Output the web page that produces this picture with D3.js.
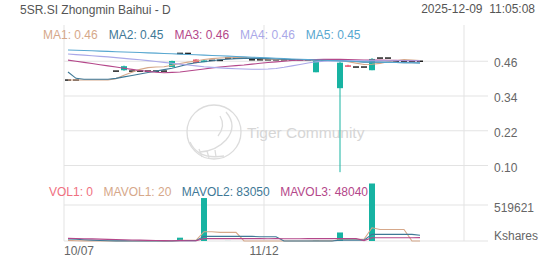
<!DOCTYPE html>
<html>
<head>
<meta charset="utf-8">
<script src="https://cdn.jsdelivr.net/npm/d3@7"></script>
<style>
  body { margin: 0; background: #fff; }
  text { font-family: "Liberation Sans", Arial, sans-serif; }
</style>
</head>
<body>
<div id="chart"></div>
<script>
// data (index 0 = 10/07, index 44 = 12/09); null = no candle drawn
const title = "5SR.SI Zhongmin Baihui - D";
const stamp = "2025-12-09  11:05:08";
const xTicks = [0, 25, 50];
const xTickLabels = ["10/07", "11/12", ""];
const priceTicks = [0.46, 0.34, 0.22, 0.10];
const volTicks = [519621];

const openP  = [0.395,0.395,null,null,null,null,0.426,0.429,0.426,0.426, 0.426,0.426,0.426,0.440,0.487,0.487,0.466,0.457,0.463,0.463, 0.471,0.471,0.471,0.465,0.465,0.465,0.465,0.465,0.465,0.465, 0.465,0.422,0.464,0.464,0.367,0.446,0.440,0.440,0.429,0.471, 0.471,0.460,0.460,0.460,0.460];
const highP  = [0.395,0.395,null,null,null,null,0.426,0.445,0.426,0.426, 0.426,0.426,0.426,0.462,0.487,0.487,0.467,0.464,0.463,0.463, 0.471,0.471,0.471,0.465,0.465,0.465,0.465,0.465,0.465,0.465, 0.465,0.463,0.464,0.464,0.460,0.448,0.440,0.440,0.471,0.471, 0.471,0.460,0.460,0.460,0.460];
const lowP   = [0.395,0.395,null,null,null,null,0.426,0.427,0.426,0.426, 0.426,0.426,0.426,0.440,0.487,0.487,0.453,0.457,0.463,0.463, 0.471,0.471,0.471,0.465,0.465,0.465,0.465,0.465,0.465,0.465, 0.465,0.422,0.464,0.464,0.077,0.441,0.440,0.440,0.429,0.471, 0.471,0.460,0.460,0.460,0.460];
const closeP = [0.395,0.395,null,null,null,null,0.426,0.443,0.426,0.426, 0.426,0.426,0.426,0.461,0.487,0.487,0.454,0.463,0.463,0.463, 0.471,0.471,0.471,0.465,0.465,0.465,0.465,0.465,0.465,0.465, 0.465,0.462,0.464,0.464,0.455,0.444,0.440,0.440,0.468,0.471, 0.471,0.460,0.460,0.460,0.460];
const volume = [0,0,0,0,0,0,200,1000,0,0, 0,0,0,0,48000,0,500,620000,100,0, 800,0,100,100,100,300,300,300,300,300, 300,5000,300,300,122900,300,0,100,830000,0, 0,0,100,0,0];

const ma1 = [0.395,0.395,0.395,0.395,0.395,0.395,0.400,0.412,0.422,0.432, 0.438,0.440,0.441,0.446,0.452,0.457,0.461,0.466,0.469,0.471, 0.472,0.473,0.473,0.471,0.469,0.467,0.466,0.465,0.465,0.465, 0.465,0.4644,0.4642,0.464,0.462,0.458,0.4534,0.4486,0.4494,0.4526, 0.458,0.462,0.466,0.4644,0.4622];
const ma2 = [0.423,0.401,0.398,0.398,0.398,0.398,0.401,0.406,0.411,0.416, 0.421,0.426,0.431,0.436,0.443,0.450,0.455,0.458,0.462,0.465, 0.467,0.469,0.470,0.470,0.470,0.469,0.468,0.467,0.466,0.465, 0.465,0.464,0.464,0.464,0.463,0.461,0.459,0.457,0.457,0.457, 0.456,0.456,0.455,0.455,0.454];
const ma3 = [0.464,0.460,0.456,0.452,0.448,0.444,0.440,0.436,0.432,0.428, 0.425,0.422,0.4205,0.4215,0.423,0.4265,0.430,0.4335,0.437,0.440, 0.4425,0.445,0.447,0.450,0.453,0.4557,0.458,0.460,0.4626,0.464, 0.465,0.466,0.4665,0.467,0.4665,0.466,0.465,0.4645,0.464,0.464, 0.4635,0.463,0.4625,0.462,0.4615];
const ma4 = [0.485,0.483,0.481,0.479,0.477,0.475,0.4725,0.470,0.4675,0.465, 0.462,0.459,0.456,0.453,0.450,0.447,0.444,0.441,0.439,0.437, 0.4355,0.434,0.433,0.4325,0.4325,0.433,0.435,0.439,0.444,0.449, 0.454,0.458,0.460,0.461,0.4612,0.4614,0.4615,0.4615,0.4616,0.4616, 0.4617,0.4617,0.4617,0.4616,0.4615];
const ma5 = [0.499,0.498,0.497,0.496,0.495,0.494,0.493,0.492,0.491,0.490, 0.489,0.488,0.4868,0.4857,0.4846,0.4835,0.4823,0.4811,0.480,0.4788, 0.4776,0.4764,0.4752,0.474,0.4728,0.4716,0.4704,0.4692,0.468,0.4668, 0.4656,0.4645,0.4634,0.4623,0.4612,0.4601,0.459,0.458,0.4572,0.4565, 0.4561,0.4557,0.4554,0.4550,0.4545];

const mavol1 = [9000,4000,1500,800,300,200,240,400,400,400, 360,200,100,100,9700,9700,9700,133600,133600,124000, 124000,124000,300,240,240,240,240,260,300,300, 300,1240,1240,1240,26100,26120,26060,25080,191080,166080, 166020,166020,166040,20,20];
const mavol2 = [30000,25000,19000,13000,8000,4500,2500,1400,900,400, 160,120,120,120,4920,4920,4970,66970,66880,66880, 66960,66960,66910,66910,62110,62140,62120,170,200,200, 230,730,760,780,13070,13090,13060,13040,96030,96030, 96000,95500,95480,95450,83050];
const mavol3 = [38000,36000,33000,30000,27000,24000,21000,18000,15000,12000, 9000,7000,5000,4000,5400,4600,3800,34100,33800,33700, 33700,33650,33620,33600,33600,33560,33570,33540,33550,33560, 33570,33820,33830,33845,36890,36900,36880,5890,47890,47900, 47860,47870,47880,47900,48040];

const W = 552, H = 265;
const up = "#17b3a2", down = "#e8506a", flat = "#222";
const maColors = ["#d6a88a", "#3e7896", "#b4478a", "#aaa8e8", "#58a7d0"];
const gridColor = "#e3e3e3";

const svg = d3.select("#chart").append("svg")
    .attr("width", W).attr("height", H);

// scales
const x = d3.scaleBand().domain(d3.range(53)).range([64, 488]);
const cx = i => x(i) + x.bandwidth() / 2;
const yP = d3.scaleLinear().domain([0.10, 0.46]).range([165.5, 61.25]);
const yV = d3.scaleLinear().domain([0, 519621]).range([241, 205]);

// grid
const grid = svg.append("g");
grid.selectAll(".vg").data(xTicks).enter().append("line")
    .attr("x1", d => x(d)).attr("x2", d => x(d))
    .attr("y1", 25).attr("y2", 241)
    .attr("stroke", gridColor);
grid.selectAll(".hg").data(priceTicks).enter().append("line")
    .attr("x1", 64).attr("x2", 488)
    .attr("y1", d => yP(d)).attr("y2", d => yP(d))
    .attr("stroke", gridColor);
grid.selectAll(".vgv").data([0].concat(volTicks)).enter().append("line")
    .attr("x1", 64).attr("x2", 488)
    .attr("y1", d => yV(d)).attr("y2", d => yV(d))
    .attr("stroke", gridColor);

// watermark
const wm = svg.append("g").attr("fill", "none").attr("stroke", "#dcdcdc").attr("stroke-width", 1.3);
wm.append("circle").attr("cx", 214).attr("cy", 132).attr("r", 27);
wm.append("path").attr("d", "M226 112 Q238 126 226 140 Q216 151 200 152");
wm.append("path").attr("d", "M220 116 Q226 126 218 136");
wm.append("path").attr("d", "M190 142 Q198 160 224 156");
wm.append("path").attr("d", "M199 149 L202 157 M207 151 L209 158 M215 150 L216 157");
svg.append("text").attr("x", 247).attr("y", 138)
    .attr("fill", "#d6d6d6").style("font-size", "15.5px")
    .text("Tiger Community");

// candles
const idx = d3.range(closeP.length);
const has = i => closeP[i] !== null;
const colorOf = i => closeP[i] > openP[i] ? up : closeP[i] < openP[i] ? down : flat;
const cg = svg.append("g");
cg.selectAll(".wick").data(idx.filter(i => has(i) && highP[i] > lowP[i])).enter().append("rect")
    .attr("x", i => cx(i) - 0.5).attr("width", 1)
    .attr("y", i => yP(highP[i]))
    .attr("height", i => yP(lowP[i]) - yP(highP[i]))
    .attr("fill", colorOf);
cg.selectAll(".body").data(idx.filter(has)).enter().append("rect")
    .attr("x", i => x(i) + 1).attr("width", 6)
    .attr("y", i => Math.min(yP(openP[i]), yP(closeP[i])) - (openP[i] === closeP[i] ? 0.75 : 0))
    .attr("height", i => Math.max(Math.abs(yP(openP[i]) - yP(closeP[i])), 1.5))
    .attr("fill", colorOf);

// volume bars
svg.append("g").selectAll("rect").data(idx.filter(i => volume[i] > 0)).enter().append("rect")
    .attr("x", i => x(i) + 1).attr("width", 6)
    .attr("y", i => yV(volume[i]))
    .attr("height", i => yV(0) - yV(volume[i]))
    .attr("fill", i => closeP[i] < openP[i] ? down : up);

// MA lines
const priceLine = d3.line().x((d, i) => cx(i)).y(d => yP(d));
[ma1, ma2, ma3, ma4, ma5].forEach((s, k) => {
    svg.append("path").datum(s)
        .attr("d", priceLine)
        .attr("fill", "none")
        .attr("stroke", maColors[k])
        .attr("stroke-width", 1.1);
});
const volLine = d3.line().x((d, i) => cx(i)).y(d => yV(d));
[mavol1, mavol2, mavol3].forEach((s, k) => {
    svg.append("path").datum(s)
        .attr("d", volLine)
        .attr("fill", "none")
        .attr("stroke", maColors[k])
        .attr("stroke-width", 1.1);
});

// axes labels (right side)
const axisText = svg.append("g").attr("fill", "#666").style("font-size", "12px");
axisText.selectAll(".pt").data(priceTicks).enter().append("text")
    .attr("x", 494).attr("y", d => yP(d) + 6)
    .text(d => d.toFixed(2));
axisText.selectAll(".vt").data(volTicks).enter().append("text")
    .attr("x", 494).attr("y", d => yV(d) + 7)
    .text(d => d);
axisText.append("text").attr("x", 494).attr("y", yV(0) - 1).text("Kshares");

// date labels
axisText.selectAll(".dt").data(xTicks.filter((d, i) => xTickLabels[i])).enter().append("text")
    .attr("x", d => x(d))
    .attr("y", 255)
    .attr("text-anchor", (d, i) => i === 0 ? "start" : "middle")
    .text((d, i) => xTickLabels[i]);

// header
svg.append("text").attr("x", 20).attr("y", 13.5)
    .attr("fill", "#555").style("font-size", "12px").text(title);
svg.append("text").attr("x", 535).attr("y", 12.5)
    .attr("fill", "#555").attr("text-anchor", "end")
    .style("font-size", "12px").style("white-space", "pre").text(stamp);

// legends
function legend(items, x0, y0, gap) {
    let xx = x0;
    items.forEach(it => {
        const t = svg.append("text").attr("x", xx).attr("y", y0)
            .attr("fill", it.color).style("font-size", "12px").text(it.label);
        xx += t.node().getComputedTextLength() + gap;
    });
}
const last = a => a[a.length - 1];
legend([ma1, ma2, ma3, ma4, ma5].map((s, k) => ({
    label: `MA${k + 1}: ${last(s).toFixed(2)}`, color: maColors[k]
})), 43, 38.5, 11);
legend([
    { label: `VOL1: ${last(volume)}`, color: "#f07080" },
    { label: `MAVOL1: ${last(mavol1)}`, color: maColors[0] },
    { label: `MAVOL2: ${last(mavol2)}`, color: maColors[1] },
    { label: `MAVOL3: ${last(mavol3)}`, color: maColors[2] }
], 49, 196, 10.5);
</script>
</body>
</html>
